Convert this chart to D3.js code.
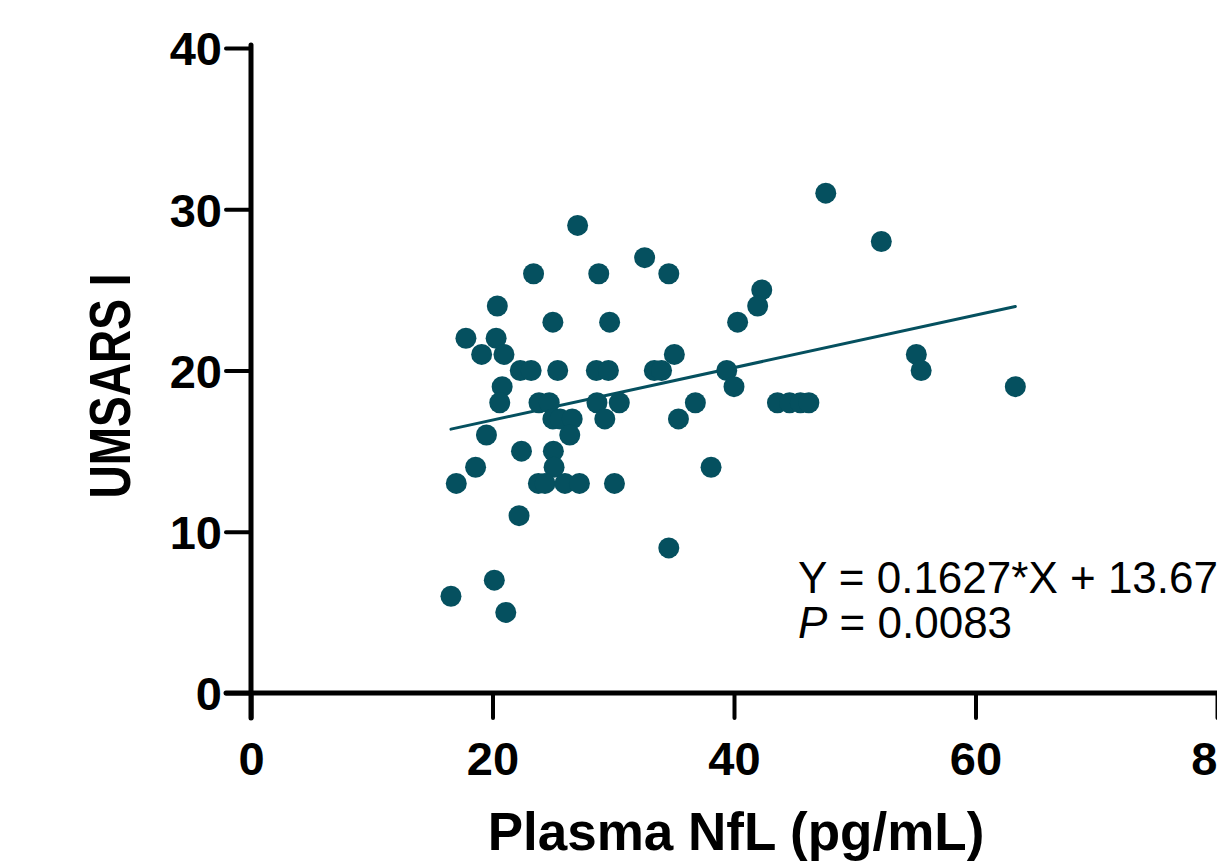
<!DOCTYPE html>
<html>
<head>
<meta charset="utf-8">
<script src="https://cdn.jsdelivr.net/npm/d3@7"></script>
<style>
  body { margin: 0; background: #fff; }
  svg { display: block; font-family: "Liberation Sans", Arial, sans-serif; }
</style>
</head>
<body>
<div class="display"></div>
<script>
// Plasma NfL vs UMSARS I scatter with linear fit

const WIDTH = 1217;
const HEIGHT = 865;
const COLOR = '#05505f';

// plasma NfL (pg/mL) values
const nfl = [
  47.6, 27.05, 52.2, 32.6,
  23.4, 28.8, 34.6,
  42.3,
  20.4, 41.96,
  25.0, 29.7, 40.3,
  17.8, 20.3,
  19.1, 20.95, 35.06, 55.1,
  22.3, 23.2, 25.4, 28.6, 29.6, 33.4, 34.0, 39.4, 55.5,
  20.8, 40.0, 63.3,
  20.6, 23.85, 24.7, 28.65, 30.5, 36.8, 43.6, 44.6, 45.5, 46.2,
  25.0, 25.6, 26.6, 29.3, 35.4,
  19.5, 26.4,
  22.4, 25.04,
  18.6, 25.1, 38.1,
  17.0, 23.8, 24.35, 26.0, 27.2, 30.1,
  22.2, 34.6, 20.15, 16.56, 21.1
];
// UMSARS I scores, same order
const umsars = [
  31, 29, 28, 27,
  26, 26, 26,
  25,
  24, 24,
  23, 23, 23,
  22, 22,
  21, 21, 21, 21,
  20, 20, 20, 20, 20, 20, 20, 20, 20,
  19, 19, 19,
  18, 18, 18, 18, 18, 18, 18, 18, 18, 18,
  17, 17, 17, 17, 17,
  16, 16,
  15, 15,
  14, 14, 14,
  13, 13, 13, 13, 13, 13,
  11, 9, 7, 6, 5
];

const xTicks = [0, 20, 40, 60, 80];
const yTicks = [0, 10, 20, 30, 40];
const slope = 0.1627;
const intercept = 13.67;
const pValue = '0.0083';

const svg = d3.select('.display')
  .append('svg')
  .attr('width', WIDTH)
  .attr('height', HEIGHT);

const x = d3.scaleLinear().domain([0, 80]).range([251, 1217]);
const y = d3.scaleLinear().domain([0, 40]).range([693, 48]);

// axes
const xAxis = svg.append('g')
  .attr('transform', `translate(0,${y(0)})`)
  .call(d3.axisBottom(x).tickValues(xTicks).tickSize(25).tickPadding(24).tickSizeOuter(0));
const yAxis = svg.append('g')
  .attr('transform', `translate(${x(0)},0)`)
  .call(d3.axisLeft(y).tickValues(yTicks).tickSize(25).tickPadding(4).tickSizeOuter(0));

[xAxis, yAxis].forEach(g => {
  g.select('.domain').attr('stroke', '#000').attr('stroke-width', 5).attr('stroke-linecap', 'round');
  g.selectAll('.tick line').attr('stroke', '#000').attr('stroke-width', 4).attr('stroke-linecap', 'round');
  g.selectAll('.tick text')
    .attr('fill', '#000')
    .attr('font-family', '"Liberation Sans", Arial, sans-serif')
    .attr('font-weight', 'bold')
    .attr('font-size', 47);
});
// y axis extends down to the 0 tick of x
yAxis.select('.domain').attr('d', `M0,${y(40) - 3}V${y(0) + 25}`);
xAxis.select('.domain').attr('d', `M${x(0) - 25},0H${WIDTH + 5}`);
xAxis.selectAll('.tick').filter(d => d === 0).select('line').attr('y1', 0);
yAxis.selectAll('.tick text').attr('dy', '0.36em');

// titles
svg.append('text')
  .attr('x', 736)
  .attr('y', 850)
  .attr('text-anchor', 'middle')
  .attr('font-weight', 'bold')
  .attr('font-size', 53)
  .text('Plasma NfL (pg/mL)');

svg.append('text')
  .attr('transform', `translate(130,386) rotate(-90) scale(1,1.25)`)
  .attr('text-anchor', 'middle')
  .attr('font-weight', 'bold')
  .attr('font-size', 46)
  .text('UMSARS I');

// fit line
const xMin = d3.min(nfl), xMax = d3.max(nfl);
svg.append('line')
  .attr('x1', x(xMin)).attr('y1', y(intercept + slope * xMin))
  .attr('x2', x(xMax)).attr('y2', y(intercept + slope * xMax))
  .attr('stroke', COLOR)
  .attr('stroke-width', 3)
  .attr('stroke-linecap', 'round');

// points
svg.append('g')
  .selectAll('circle')
  .data(nfl.map((d, i) => [d, umsars[i]]))
  .enter()
  .append('circle')
  .attr('cx', d => x(d[0]))
  .attr('cy', d => y(d[1]))
  .attr('r', 10.5)
  .attr('fill', COLOR);

// equation + p value
const note = svg.append('g').attr('font-size', 44).attr('fill', '#000');
note.append('text')
  .attr('x', 798).attr('y', 593)
  .text(`Y = ${slope}*X + ${intercept}`);
const pText = note.append('text').attr('x', 798).attr('y', 638);
pText.append('tspan').attr('font-style', 'italic').text('P');
pText.append('tspan').text(` = ${pValue}`);
</script>
</body>
</html>
